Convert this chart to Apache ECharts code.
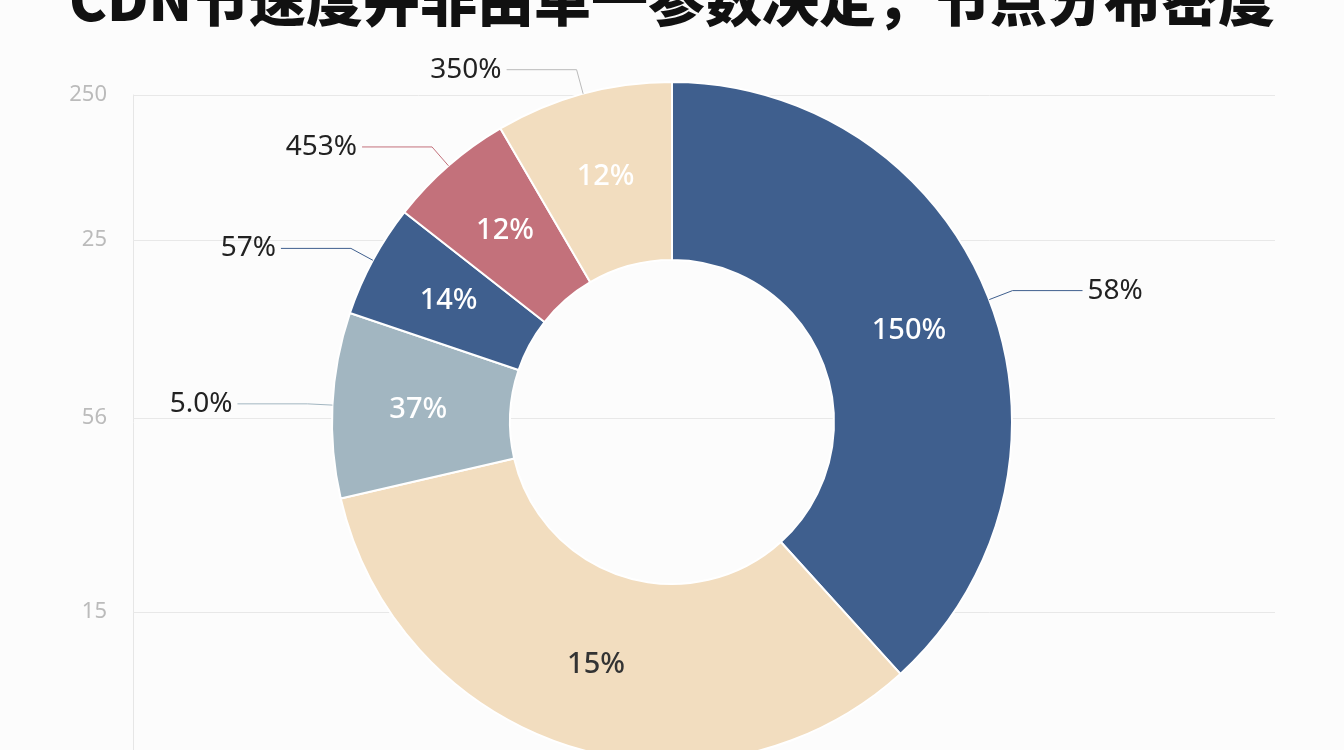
<!DOCTYPE html><html><head><meta charset="utf-8"><script src="https://cdn.jsdelivr.net/npm/echarts@6/dist/echarts.min.js"></script>
<style>html,body{margin:0;background:#fcfcfc}#c{width:1344px;height:750px}</style></head><body><div id="c"></div><script>
const titleText='CDN节速度并非由单一参数决定，节点分布密度';
const sliceValues=[137.8,119.2,31.7,19.4,21.6,30.3];
const insideLabels=['150%','15%','37%','14%','12%','12%'];
const outsideLabels=['58%','','5.0%','57%','453%','350%'];
const sliceColors=['#3f5f8e','#f2ddbf','#a2b6c1','#3f5f8e','#c3717b','#f2ddbf'];
const insideColors=['#fff','#333','#fff','#fff','#fff','#fff'];
const tickValues=[655,510,332,138];
const tickLabels=['250','25','56','15'];
const chart=echarts.init(document.getElementById('c'));
chart.setOption({
 backgroundColor:'#fcfcfc',
 title:{text:titleText,left:'center',top:-34,textStyle:{fontSize:57,fontWeight:900,color:'#111',fontFamily:'Noto Sans CJK SC'}},
 grid:{left:133,right:69,top:95,bottom:0},
 xAxis:{type:'value',min:0,max:1,show:false},
 yAxis:{type:'value',min:0,max:655,axisLabel:{show:false},splitLine:{show:false},axisLine:{show:true,lineStyle:{color:'#e6e6e6'}},axisTick:{show:false}},
 series:[
  {type:'line',data:[],markLine:{symbol:'none',silent:true,lineStyle:{color:'#e8e8e8',type:'solid',width:1},
    label:{position:'start',distance:26,color:'#bbbbbb',fontSize:22,fontFamily:'Noto Sans',formatter:p=>tickLabels[tickValues.indexOf(p.value)]},
    data:tickValues.map(v=>({yAxis:v}))}},
  {type:'pie',center:[672,422],radius:[162,340],startAngle:90,clockwise:true,z:5,
   itemStyle:{borderColor:'#fff',borderWidth:2},
   label:{position:'inside',fontSize:29,fontWeight:500,fontFamily:'Noto Sans',formatter:p=>insideLabels[p.dataIndex]},
   labelLine:{show:false},
   data:sliceValues.map((v,i)=>({value:v,itemStyle:{color:sliceColors[i]},label:{color:insideColors[i]}}))},
  {type:'pie',center:[672,422],radius:[162,340],startAngle:90,clockwise:true,z:6,silent:true,
   itemStyle:{color:'rgba(0,0,0,0)'},
   label:{position:'outside',fontSize:28,color:'#222',fontFamily:'Noto Sans',formatter:p=>outsideLabels[p.dataIndex]},
   labelLine:{length:25,length2:70,lineStyle:{width:1}},
   data:sliceValues.map((v,i)=>({value:v,label:{show:!!outsideLabels[i]},labelLine:{show:!!outsideLabels[i],lineStyle:{color:sliceColors[i]==='#f2ddbf'?'#bbb':sliceColors[i]}}}))}
 ]
});
</script></body></html>
